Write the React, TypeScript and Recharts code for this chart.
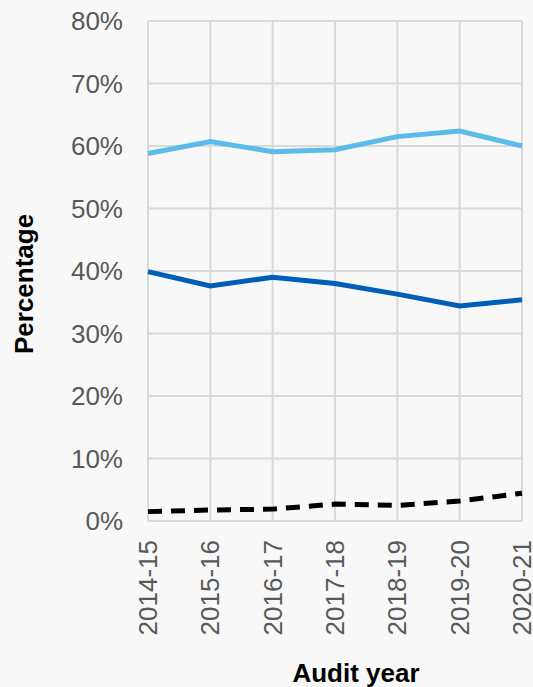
import React from 'react';
import { LineChart, Line, XAxis, YAxis, CartesianGrid, Label } from 'recharts';

// Audit years on the horizontal axis
const auditYears = ['2014-15', '2015-16', '2016-17', '2017-18', '2018-19', '2019-20', '2020-21'];

// Percentage values per audit year
const lightBlueSeries = [58.8, 60.7, 59.1, 59.4, 61.5, 62.4, 60.0];
const darkBlueSeries = [39.9, 37.6, 39.0, 38.0, 36.3, 34.4, 35.4];
const dashedSeries = [1.5, 1.75, 1.9, 2.7, 2.5, 3.2, 4.45];

const yTicks = [0, 10, 20, 30, 40, 50, 60, 70, 80];

const data = auditYears.map((year, i) => ({
  year,
  light: lightBlueSeries[i],
  dark: darkBlueSeries[i],
  dashed: dashedSeries[i],
}));

const FONT = '"Liberation Sans", Arial, sans-serif';
const TICK_GRAY = '#595959';

const RotatedTick = (props: any) => {
  const { x, y, payload } = props;
  return (
    <text
      x={x}
      y={y}
      dy="0.35em"
      transform={`rotate(-90, ${x}, ${y})`}
      textAnchor="end"
      fill={TICK_GRAY}
      fontSize={26}
      fontFamily={FONT}
    >
      {payload.value}
    </text>
  );
};

const YTitle = (props: any) => {
  const { viewBox } = props;
  const cx = 33;
  const cy = viewBox.y + viewBox.height / 2 + 13;
  return (
    <text
      x={cx}
      y={cy}
      transform={`rotate(-90, ${cx}, ${cy})`}
      textAnchor="middle"
      fill="#000"
      fontSize={26}
      fontWeight="bold"
      fontFamily={FONT}
    >
      Percentage
    </text>
  );
};

const XTitle = (props: any) => {
  const { viewBox } = props;
  const cx = viewBox.x + viewBox.width / 2 + 21;
  return (
    <text
      x={cx}
      y={682}
      textAnchor="middle"
      fill="#000"
      fontSize={26}
      fontWeight="bold"
      fontFamily={FONT}
    >
      Audit year
    </text>
  );
};

export default function App() {
  return (
    <div
      style={{
        position: 'absolute',
        left: 0,
        top: 0,
        width: 533,
        height: 687,
        background: '#f8f8f8',
      }}
    >
      <LineChart
        width={533}
        height={687}
        data={data}
        margin={{ top: 21, right: 11, left: 0, bottom: 0 }}
      >
        <CartesianGrid stroke="#d9d9d9" strokeWidth={2} />
        <XAxis
          dataKey="year"
          axisLine={false}
          tickLine={false}
          tickSize={0}
          tickMargin={19}
          height={166}
          interval={0}
          tick={<RotatedTick />}
        >
          <Label content={<XTitle />} />
        </XAxis>
        <YAxis
          domain={[0, 80]}
          ticks={yTicks}
          tickFormatter={(v: number) => `${v}%`}
          axisLine={false}
          tickLine={false}
          tickSize={0}
          tickMargin={25}
          width={148}
          tick={{ fill: TICK_GRAY, fontSize: 26, fontFamily: FONT }}
        >
          <Label content={<YTitle />} />
        </YAxis>
        <Line
          dataKey="light"
          stroke="#5BBCE9"
          strokeWidth={5}
          dot={false}
          isAnimationActive={false}
        />
        <Line
          dataKey="dark"
          stroke="#005EB8"
          strokeWidth={5}
          dot={false}
          isAnimationActive={false}
        />
        <Line
          dataKey="dashed"
          stroke="#000000"
          strokeWidth={5}
          strokeDasharray="14 9"
          dot={false}
          isAnimationActive={false}
        />
      </LineChart>
    </div>
  );
}
